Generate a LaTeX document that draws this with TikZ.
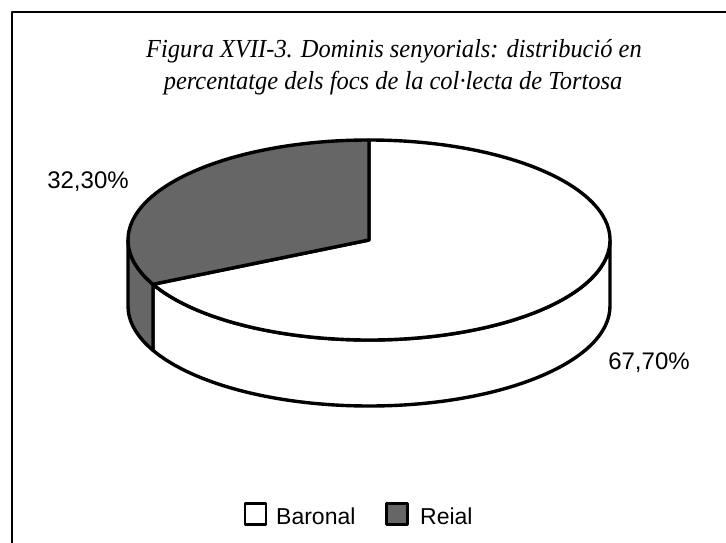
\documentclass[tikz,border=0pt]{standalone}
\usepackage{fontspec}
\setmainfont{Liberation Serif}
\setsansfont{Liberation Sans}
\begin{document}
\begin{tikzpicture}[x=1pt,y=1pt, line join=round,
  edge/.style={line width=3.4pt},
  reialfill/.style={fill=black!60},
  titletext/.style={font=\itshape\fontsize{26}{32}\selectfont, inner sep=0pt, anchor=base, xscale=0.94},
  pct/.style={font=\sffamily\fontsize{24}{27}\selectfont, inner sep=0pt},
  legtext/.style={font=\sffamily\fontsize{23}{27}\selectfont, inner sep=0pt, anchor=west},
  legbox/.style={line width=2.8pt, minimum size=21pt, inner sep=0pt, draw},
  ]
\useasboundingbox (0,-543) rectangle (726,0);
\draw[line width=2pt] (12,-543) -- (12,-12) -- (726,-12);
\node[titletext] (title1) at (394,-58) {Figura XVII-3. Dominis senyorials: distribució en};
\node[titletext] (title2) at (393,-90) {percentatge dels focs de la col·lecta de Tortosa};
% pie
\coordinate (C) at (369,-240);
% Baronal side
\draw[edge, fill=white] ([shift={(206.3:241 and 100)}]C) arc[start angle=206.3, end angle=360, x radius=241, y radius=100]
  -- ++(0,-66) arc[start angle=360, end angle=206.3, x radius=241, y radius=100] -- cycle;
% Reial side
\draw[edge, reialfill] ([shift={(180:241 and 100)}]C) arc[start angle=180, end angle=206.3, x radius=241, y radius=100]
  -- ++(0,-66) arc[start angle=206.3, end angle=180, x radius=241, y radius=100] -- cycle;
% Baronal top
\draw[edge, fill=white] (C) -- ([shift={(206.3:241 and 100)}]C) arc[start angle=206.3, end angle=450, x radius=241, y radius=100] -- cycle;
% Reial top
\draw[edge, reialfill] (C) -- ([shift={(90:241 and 100)}]C) arc[start angle=90, end angle=206.3, x radius=241, y radius=100] -- cycle;
% labels
\node[pct] (lreial) at (88,-182) {32,30\%};
\node[pct] (lbaronal) at (649,-363) {67,70\%};
% legend
\node[legbox, fill=white] (bbox) at (255.5,-514) {};
\node[legtext] (btext) at (276,-516) {Baronal};
\node[legbox, reialfill] (rbox) at (397,-514) {};
\node[legtext] (rtext) at (420,-516) {Reial};
\end{tikzpicture}
\end{document}
